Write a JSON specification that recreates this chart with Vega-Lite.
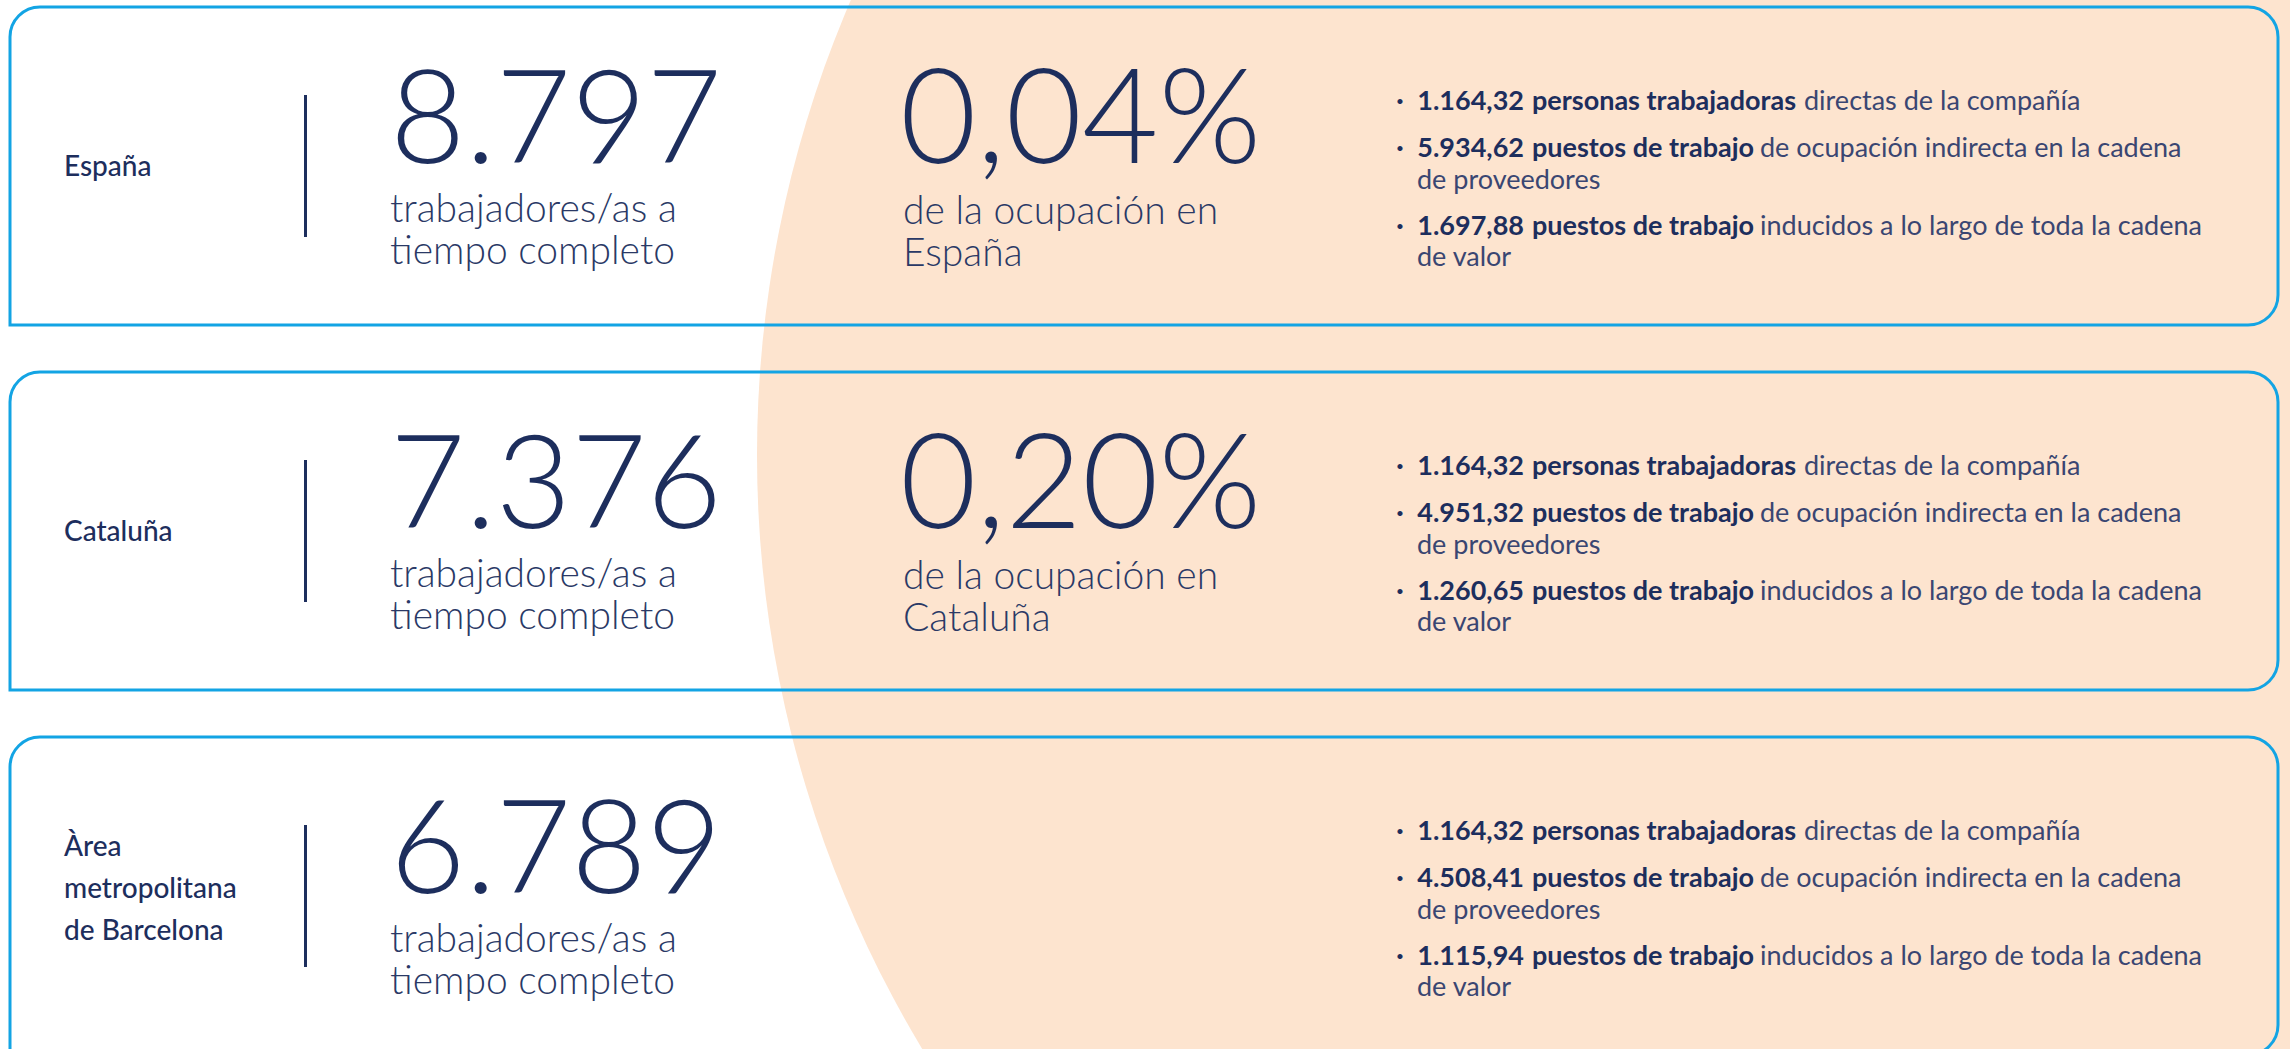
{
  "$schema": "https://vega.github.io/schema/vega-lite/v6.json",
  "width": 2290,
  "height": 1049,
  "autosize": {"type": "none"},
  "padding": 0,
  "background": "#ffffff",
  "config": {
    "view": {"stroke": null},
    "text": {"font": "Lato"},
    "locale": {"number": {"decimal": ",", "thousands": ".", "grouping": [3], "currency": ["", " €"]}}
  },
  "datasets": {
    "territorios": [
      {"region": "España", "etiqueta": "España", "empleo": 8797, "cuota": 0.0004, "ambito": "de la ocupación en\nEspaña"},
      {"region": "Cataluña", "etiqueta": "Cataluña", "empleo": 7376, "cuota": 0.002, "ambito": "de la ocupación en\nCataluña"},
      {"region": "Àrea metropolitana de Barcelona", "etiqueta": "Àrea\nmetropolitana\nde Barcelona", "empleo": 6789, "cuota": null, "ambito": null}
    ],
    "desglose": [
      {"region": "España", "orden": 1, "valor": 1164.32, "concepto": "personas trabajadoras", "texto": "directas de la compañía", "texto_cont": ""},
      {"region": "España", "orden": 2, "valor": 5934.62, "concepto": "puestos de trabajo", "texto": "de ocupación indirecta en la cadena", "texto_cont": "de proveedores"},
      {"region": "España", "orden": 3, "valor": 1697.88, "concepto": "puestos de trabajo", "texto": "inducidos a lo largo de toda la cadena", "texto_cont": "de valor"},
      {"region": "Cataluña", "orden": 1, "valor": 1164.32, "concepto": "personas trabajadoras", "texto": "directas de la compañía", "texto_cont": ""},
      {"region": "Cataluña", "orden": 2, "valor": 4951.32, "concepto": "puestos de trabajo", "texto": "de ocupación indirecta en la cadena", "texto_cont": "de proveedores"},
      {"region": "Cataluña", "orden": 3, "valor": 1260.65, "concepto": "puestos de trabajo", "texto": "inducidos a lo largo de toda la cadena", "texto_cont": "de valor"},
      {"region": "Àrea metropolitana de Barcelona", "orden": 1, "valor": 1164.32, "concepto": "personas trabajadoras", "texto": "directas de la compañía", "texto_cont": ""},
      {"region": "Àrea metropolitana de Barcelona", "orden": 2, "valor": 4508.41, "concepto": "puestos de trabajo", "texto": "de ocupación indirecta en la cadena", "texto_cont": "de proveedores"},
      {"region": "Àrea metropolitana de Barcelona", "orden": 3, "valor": 1115.94, "concepto": "puestos de trabajo", "texto": "inducidos a lo largo de toda la cadena", "texto_cont": "de valor"}
    ]
  },
  "encoding": {
    "y": {
      "field": "region",
      "type": "nominal",
      "axis": null,
      "scale": {
        "type": "band",
        "domain": ["España", "Cataluña", "Àrea metropolitana de Barcelona"],
        "range": [7, 1055],
        "paddingInner": 0.1288,
        "paddingOuter": 0
      }
    }
  },
  "layer": [
    {
      "data": {"values": [{"forma": "fondo"}]},
      "mark": {"type": "point", "shape": "circle", "filled": true, "size": 5290000, "color": "#fde4cf", "opacity": 1, "strokeWidth": 0},
      "encoding": {"x": {"value": 1907}, "y": {"value": 455}}
    },
    {
      "data": {"name": "territorios"},
      "mark": {"type": "rect", "fill": "#ffffff", "fillOpacity": 0, "stroke": "#13a4e4", "strokeWidth": 3, "cornerRadiusTopLeft": 30, "cornerRadiusTopRight": 30, "cornerRadiusBottomRight": 30, "cornerRadiusBottomLeft": 0},
      "encoding": {"x": {"value": 10}, "x2": {"value": 2278}}
    },
    {
      "data": {"name": "territorios"},
      "mark": {"type": "rect", "color": "#1d2e5d", "height": {"band": 0.4465}},
      "encoding": {"x": {"value": 304}, "x2": {"value": 307}}
    },
    {
      "data": {"name": "territorios"},
      "transform": [{"filter": "indexof(datum.etiqueta, '\\n') < 0"}],
      "mark": {"type": "text", "align": "left", "baseline": "alphabetic", "fontSize": 28, "fontWeight": 500, "color": "#1d2e5d", "dy": 10},
      "encoding": {"x": {"value": 64}, "text": {"field": "etiqueta", "type": "nominal"}}
    },
    {
      "data": {"name": "territorios"},
      "transform": [{"filter": "indexof(datum.etiqueta, '\\n') >= 0"}],
      "mark": {"type": "text", "align": "left", "baseline": "alphabetic", "fontSize": 28, "fontWeight": 500, "color": "#1d2e5d", "lineBreak": "\n", "lineHeight": 42, "dy": -40},
      "encoding": {"x": {"value": 64}, "text": {"field": "etiqueta", "type": "nominal"}}
    },
    {
      "data": {"name": "territorios"},
      "mark": {"type": "text", "align": "left", "baseline": "alphabetic", "fontSize": 130, "fontWeight": 300, "color": "#1d2e5d", "dy": -3},
      "encoding": {"x": {"value": 390}, "text": {"field": "empleo", "type": "quantitative", "format": ",d"}}
    },
    {
      "data": {"name": "territorios"},
      "mark": {"type": "text", "align": "left", "baseline": "alphabetic", "fontSize": 39, "fontWeight": 300, "color": "#2a3966", "lineHeight": 42, "dy": 56},
      "encoding": {"x": {"value": 390}, "text": {"value": ["trabajadores/as a", "tiempo completo"]}}
    },
    {
      "data": {"name": "territorios"},
      "transform": [{"filter": {"field": "cuota", "valid": true}}],
      "mark": {"type": "text", "align": "left", "baseline": "alphabetic", "fontSize": 132, "fontWeight": 300, "color": "#1d2e5d", "dy": -3},
      "encoding": {"x": {"value": 900}, "text": {"field": "cuota", "type": "quantitative", "format": ".2%"}}
    },
    {
      "data": {"name": "territorios"},
      "transform": [{"filter": {"field": "cuota", "valid": true}}],
      "mark": {"type": "text", "align": "left", "baseline": "alphabetic", "fontSize": 39, "fontWeight": 300, "color": "#2a3966", "lineBreak": "\n", "lineHeight": 42, "dy": 58},
      "encoding": {"x": {"value": 903}, "text": {"field": "ambito", "type": "nominal"}}
    },
    {
      "data": {"name": "desglose"},
      "transform": [{"filter": "datum.orden == 1"}],
      "layer": [
        {"mark": {"type": "text", "align": "center", "baseline": "alphabetic", "fontSize": 27, "fontWeight": 700, "color": "#1d2e5d", "dy": -56}, "encoding": {"x": {"value": 1400}, "text": {"value": "·"}}},
        {"mark": {"type": "text", "align": "right", "baseline": "alphabetic", "fontSize": 27, "fontWeight": 700, "color": "#1d2e5d", "dy": -56}, "encoding": {"x": {"value": 1524}, "text": {"field": "valor", "type": "quantitative", "format": ",.2f"}}},
        {"mark": {"type": "text", "align": "left", "baseline": "alphabetic", "fontSize": 27, "fontWeight": 700, "color": "#1d2e5d", "dy": -56}, "encoding": {"x": {"value": 1532}, "text": {"field": "concepto", "type": "nominal"}}},
        {"mark": {"type": "text", "align": "left", "baseline": "alphabetic", "fontSize": 27, "fontWeight": 400, "color": "#3a4672", "dy": -56}, "encoding": {"x": {"value": 1804}, "text": {"field": "texto", "type": "nominal"}}}
      ]
    },
    {
      "data": {"name": "desglose"},
      "transform": [{"filter": "datum.orden == 2"}],
      "layer": [
        {"mark": {"type": "text", "align": "center", "baseline": "alphabetic", "fontSize": 27, "fontWeight": 700, "color": "#1d2e5d", "dy": -9}, "encoding": {"x": {"value": 1400}, "text": {"value": "·"}}},
        {"mark": {"type": "text", "align": "right", "baseline": "alphabetic", "fontSize": 27, "fontWeight": 700, "color": "#1d2e5d", "dy": -9}, "encoding": {"x": {"value": 1524}, "text": {"field": "valor", "type": "quantitative", "format": ",.2f"}}},
        {"mark": {"type": "text", "align": "left", "baseline": "alphabetic", "fontSize": 27, "fontWeight": 700, "color": "#1d2e5d", "dy": -9}, "encoding": {"x": {"value": 1532}, "text": {"field": "concepto", "type": "nominal"}}},
        {"mark": {"type": "text", "align": "left", "baseline": "alphabetic", "fontSize": 27, "fontWeight": 400, "color": "#3a4672", "dy": -9}, "encoding": {"x": {"value": 1760}, "text": {"field": "texto", "type": "nominal"}}},
        {"mark": {"type": "text", "align": "left", "baseline": "alphabetic", "fontSize": 27, "fontWeight": 400, "color": "#3a4672", "dy": 23}, "encoding": {"x": {"value": 1417}, "text": {"field": "texto_cont", "type": "nominal"}}}
      ]
    },
    {
      "data": {"name": "desglose"},
      "transform": [{"filter": "datum.orden == 3"}],
      "layer": [
        {"mark": {"type": "text", "align": "center", "baseline": "alphabetic", "fontSize": 27, "fontWeight": 700, "color": "#1d2e5d", "dy": 69}, "encoding": {"x": {"value": 1400}, "text": {"value": "·"}}},
        {"mark": {"type": "text", "align": "right", "baseline": "alphabetic", "fontSize": 27, "fontWeight": 700, "color": "#1d2e5d", "dy": 69}, "encoding": {"x": {"value": 1524}, "text": {"field": "valor", "type": "quantitative", "format": ",.2f"}}},
        {"mark": {"type": "text", "align": "left", "baseline": "alphabetic", "fontSize": 27, "fontWeight": 700, "color": "#1d2e5d", "dy": 69}, "encoding": {"x": {"value": 1532}, "text": {"field": "concepto", "type": "nominal"}}},
        {"mark": {"type": "text", "align": "left", "baseline": "alphabetic", "fontSize": 27, "fontWeight": 400, "color": "#3a4672", "dy": 69}, "encoding": {"x": {"value": 1760}, "text": {"field": "texto", "type": "nominal"}}},
        {"mark": {"type": "text", "align": "left", "baseline": "alphabetic", "fontSize": 27, "fontWeight": 400, "color": "#3a4672", "dy": 100}, "encoding": {"x": {"value": 1417}, "text": {"field": "texto_cont", "type": "nominal"}}}
      ]
    }
  ]
}
